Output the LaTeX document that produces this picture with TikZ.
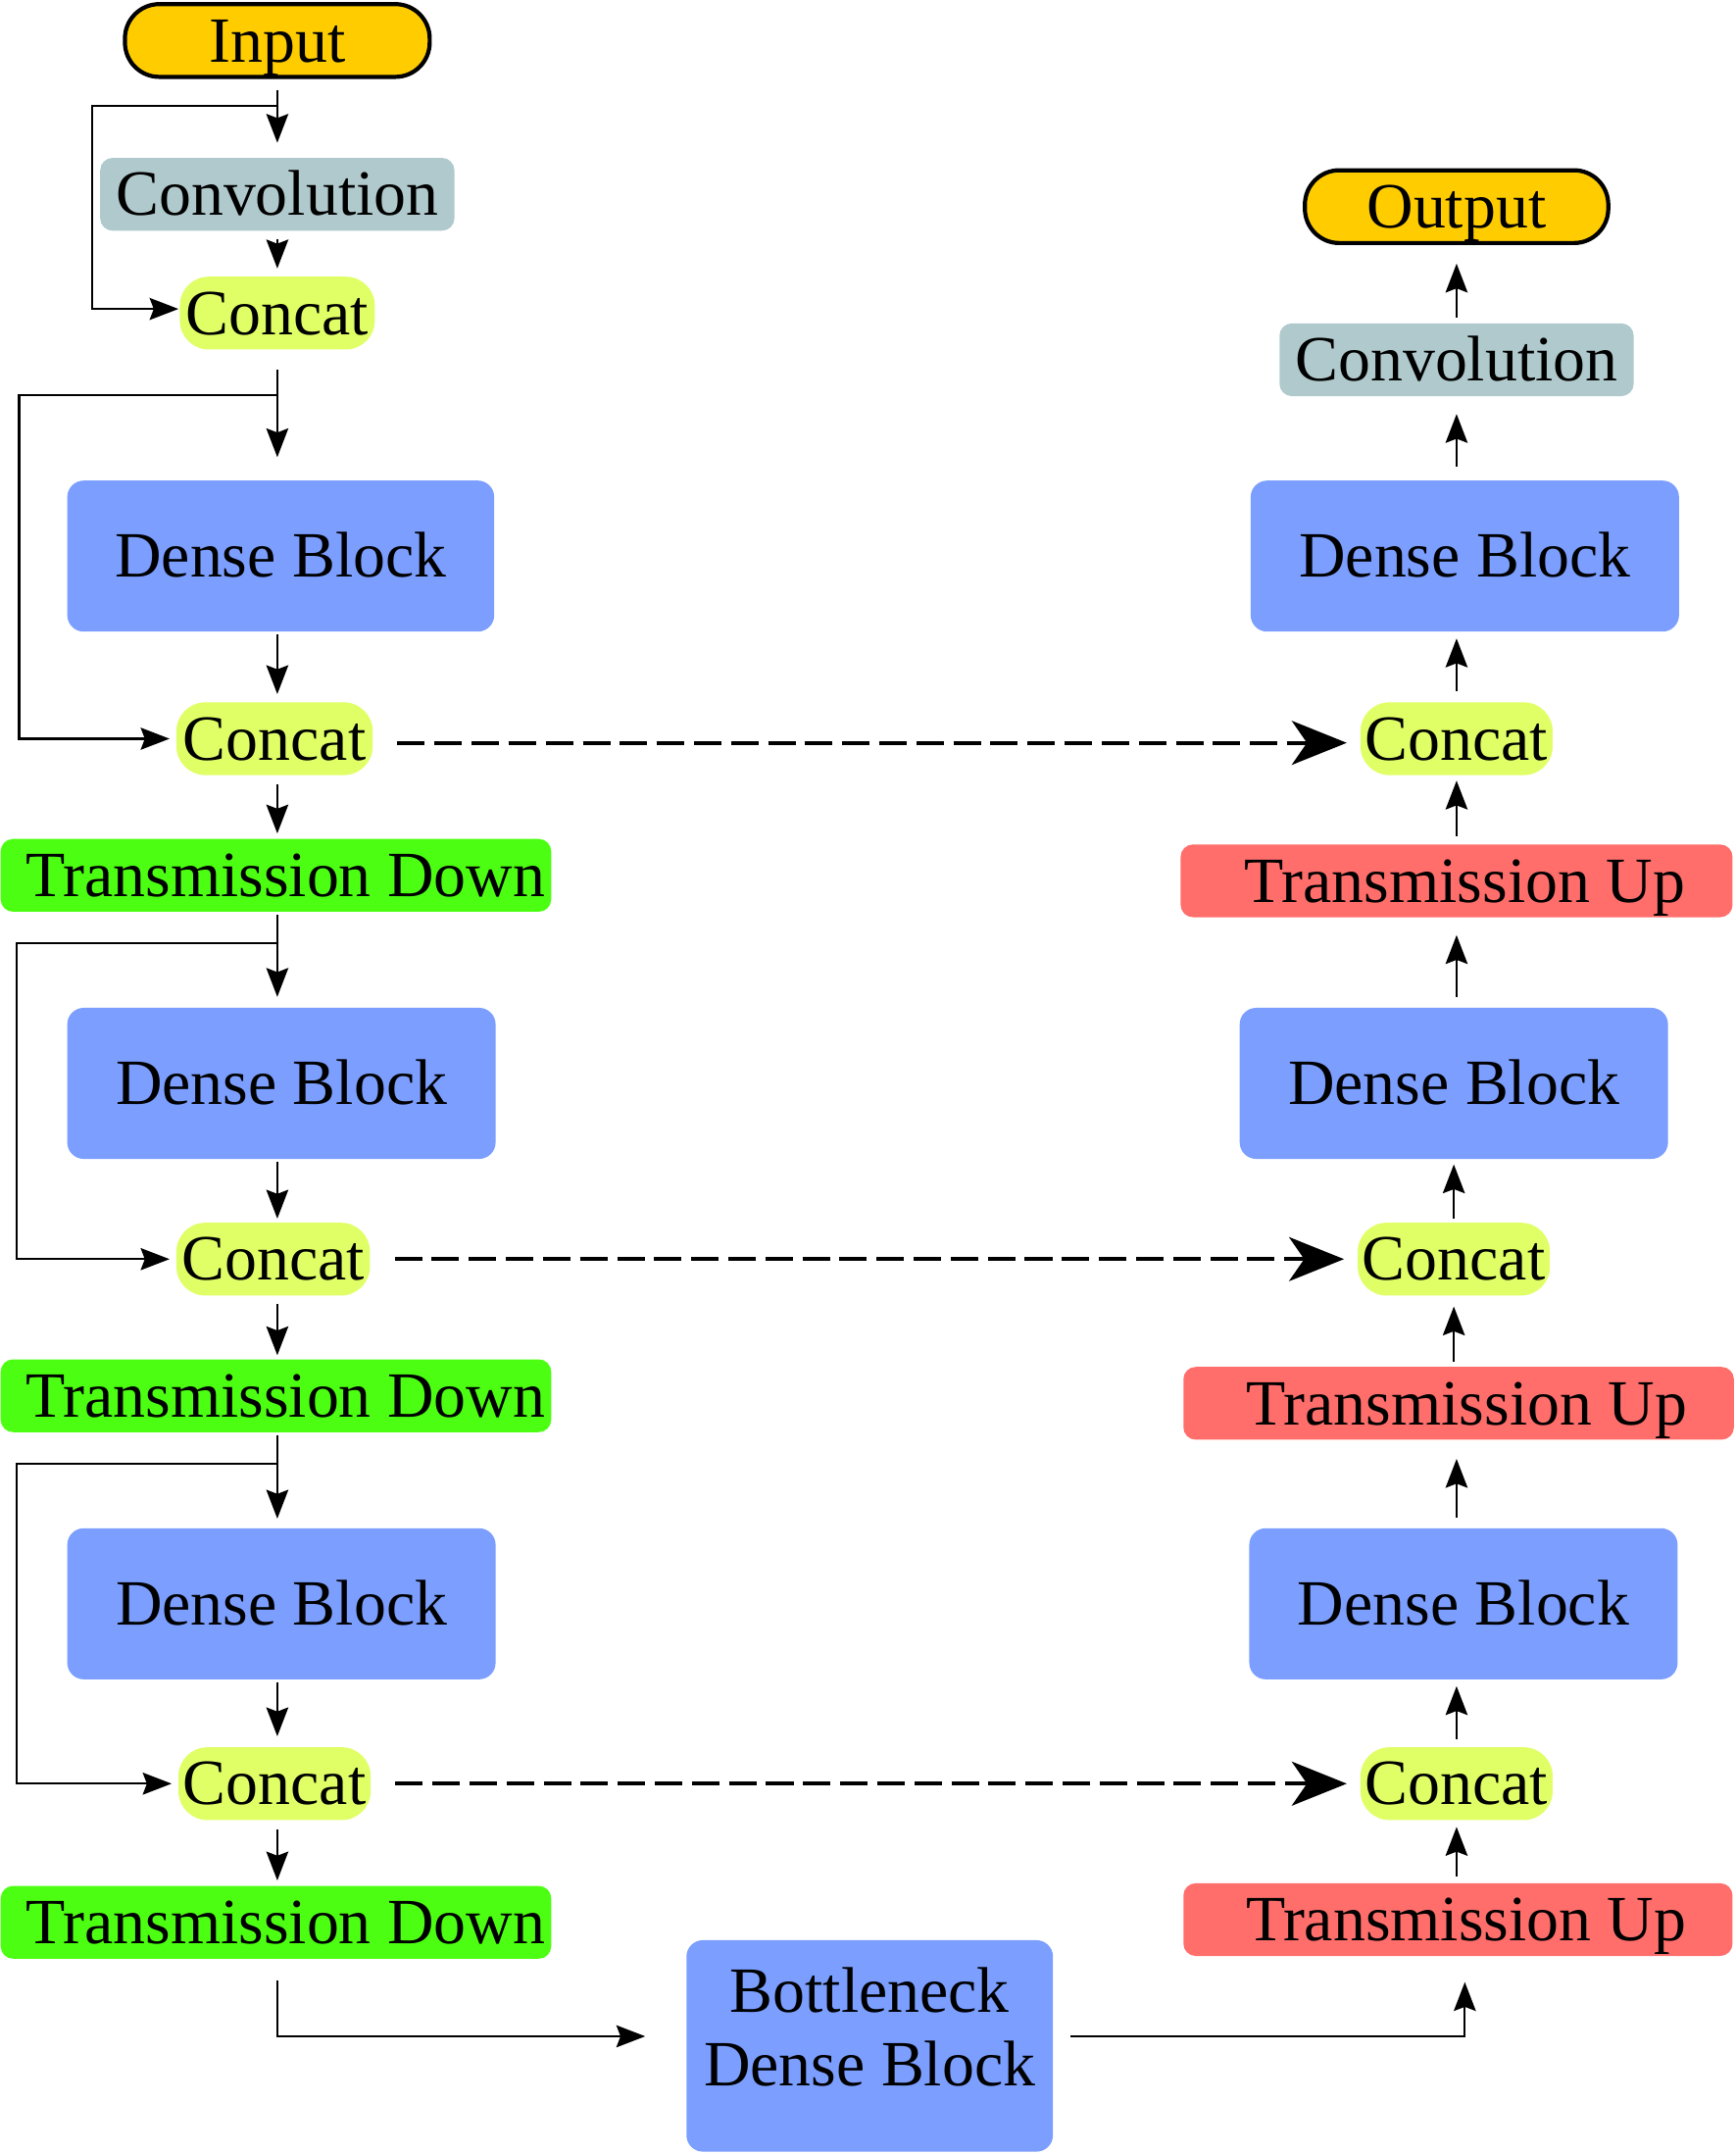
\documentclass[tikz,border=0pt]{standalone}
\usepackage{fontspec}
\setmainfont{Liberation Serif}
\usetikzlibrary{arrows.meta,calc}
\definecolor{cio}{HTML}{FFCC00}
\definecolor{cconv}{HTML}{B0C9CC}
\definecolor{ccat}{HTML}{E0FF66}
\definecolor{cdb}{HTML}{7B9EFF}
\definecolor{ctd}{HTML}{4CFF12}
\definecolor{ctu}{HTML}{FF6E6B}
\begin{document}
\begin{tikzpicture}[x=1pt,y=-1pt,
  box/.style={rectangle,inner sep=0pt,outer sep=0pt,font=\fontsize{47}{53}\selectfont,text height=42pt,text depth=11pt},
  io/.style={box,fill=cio,draw=black,line width=3pt,rounded corners=25pt},
  convbox/.style={box,fill=cconv,rounded corners=9pt},
  catbox/.style={box,fill=ccat,rounded corners=21pt},
  dbbox/.style={box,fill=cdb,rounded corners=12pt},
  tdbox/.style={box,fill=ctd,rounded corners=9pt},
  tubox/.style={box,fill=ctu,rounded corners=9pt},
  arr/.style={line width=1.6pt,-{Stealth[length=21pt,width=16pt,inset=3pt]}},
  darr/.style={line width=3pt,dash pattern=on 20pt off 7pt,-{Stealth[length=40pt,width=32pt,inset=11pt]}}
]
\useasboundingbox (0,0) rectangle (1264,1568);

% left column
\node[io,minimum width=222,minimum height=50] (in) at (202,29.5) {Input};
\node[convbox,minimum width=258,minimum height=41] (convL) at (202,141.5) {Convolution};
\node[catbox,minimum width=142,minimum height=44] (catL0) at (202,228) {Concat};
\node[dbbox,minimum width=311,minimum height=110] (dbL1) at (204.5,405) {Dense Block};
\node[catbox,minimum width=143,minimum height=44] (catL1) at (200,538) {Concat};
\node[tdbox,minimum width=401,minimum height=47] (tdL1) at (201,637.5) {\hspace{14pt}Transmission Down};
\node[dbbox,minimum width=312,minimum height=110] (dbL2) at (205,789) {Dense Block};
\node[catbox,minimum width=141,minimum height=44] (catL2) at (199,917) {Concat};
\node[tdbox,minimum width=401,minimum height=47] (tdL2) at (201,1016.5) {\hspace{14pt}Transmission Down};
\node[dbbox,minimum width=312,minimum height=110] (dbL3) at (205,1168) {Dense Block};
\node[catbox,minimum width=140,minimum height=42] (catL3) at (200,1299) {Concat};
\node[tdbox,minimum width=401,minimum height=48] (tdL3) at (201,1400) {\hspace{14pt}Transmission Down};

% bottleneck
\node[dbbox,minimum width=267,minimum height=154,align=center,text height=,text depth=28pt] (bott) at (633.5,1490) {Bottleneck\\Dense Block};

% right column
\node[tubox,minimum width=400,minimum height=42] (tuR3) at (1062,1398) {\hspace{12pt}Transmission Up};
\node[catbox,minimum width=140,minimum height=42] (catR3) at (1061,1299) {Concat};
\node[dbbox,minimum width=312,minimum height=110] (dbR3) at (1066,1168) {Dense Block};
\node[tubox,minimum width=401,minimum height=48] (tuR2) at (1062.5,1022) {\hspace{12pt}Transmission Up};
\node[catbox,minimum width=140,minimum height=44] (catR2) at (1059,917) {Concat};
\node[dbbox,minimum width=312,minimum height=110] (dbR2) at (1059,789) {Dense Block};
\node[tubox,minimum width=402,minimum height=47] (tuR1) at (1061,641.5) {\hspace{12pt}Transmission Up};
\node[catbox,minimum width=140,minimum height=44] (catR1) at (1061,538) {Concat};
\node[dbbox,minimum width=312,minimum height=110] (dbR1) at (1067,405) {Dense Block};
\node[convbox,minimum width=258,minimum height=40] (convR) at (1061,262) {Convolution};
\node[io,minimum width=221,minimum height=52] (out) at (1061,150.5) {Output};

% left connectors
\draw[arr] ($(in.south)+(0,10)$) -- ($(in.south |- convL.north)+(0,-11)$);
\draw[arr] ($(in.south)+(0,21)$) -- ++(-135,0) |- ($(catL0.west)+(-1,-3)$);
\draw[arr] ($(convL.south)+(0,6)$) -- ($(convL.south |- catL0.north)+(0,-6)$);
\draw[arr] ($(catL0.south)+(0,15)$) -- ($(catL0.south |- dbL1.north)+(0,-17)$);
\draw[arr] ($(catL0.south)+(0,33)$) -- ++(-188,0) |- ($(catL1.west)+(-5,0)$);
\draw[arr] ($(catL0 |- dbL1.south)+(0,2)$) -- ($(catL0 |- catL1.north)+(0,-6)$);
\draw[arr] ($(catL0 |- catL1.south)+(0,7)$) -- ($(catL0 |- tdL1.north)+(0,-4)$);
\draw[arr] ($(catL0 |- tdL1.south)+(0,2)$) -- ($(catL0 |- dbL2.north)+(0,-8)$);
\draw[arr] ($(catL0 |- tdL1.south)+(0,23)$) -- ++(-190,0) |- ($(catL2.west)+(-5,0)$);
\draw[arr] ($(catL0 |- dbL2.south)+(0,2)$) -- ($(catL0 |- catL2.north)+(0,-3)$);
\draw[arr] ($(catL0 |- catL2.south)+(0,6)$) -- ($(catL0 |- tdL2.north)+(0,-3)$);
\draw[arr] ($(catL0 |- tdL2.south)+(0,2)$) -- ($(catL0 |- dbL3.north)+(0,-7)$);
\draw[arr] ($(catL0 |- tdL2.south)+(0,23)$) -- ++(-190,0) |- ($(catL3.west)+(-5,0)$);
\draw[arr] ($(catL0 |- dbL3.south)+(0,2)$) -- ($(catL0 |- catL3.north)+(0,-8)$);
\draw[arr] ($(catL0 |- catL3.south)+(0,7)$) -- ($(catL0 |- tdL3.north)+(0,-4)$);
\draw[arr] ($(catL0 |- tdL3.south)+(0,16)$) |- ($(bott.west)+(-30,-7)$);

% skip (dashed) connectors
\draw[darr] ($(catL1.east)+(18,3)$) -- ($(catR1.west)+(-10,3)$);
\draw[darr] ($(catL2.east)+(18,0)$) -- ($(catR2.west)+(-10,0)$);
\draw[darr] ($(catL3.east)+(18,0)$) -- ($(catR3.west)+(-10,0)$);

% right connectors
\draw[arr] ($(bott.east)+(13,-7)$) -| ($(tuR3.south)+(5,19)$);
\draw[arr] ($(catR3 |- tuR3.north)+(0,-5)$) -- ($(catR3.south)+(0,5)$);
\draw[arr] ($(catR3.north)+(0,-6)$) -- ($(catR3 |- dbR3.south)+(0,5)$);
\draw[arr] ($(catR3 |- dbR3.north)+(0,-8)$) -- ($(catR3 |- tuR2.south)+(0,14)$);
\draw[arr] ($(catR2 |- tuR2.north)+(0,-4)$) -- ($(catR2.south)+(0,8)$);
\draw[arr] ($(catR2.north)+(0,-3)$) -- ($(catR2 |- dbR2.south)+(0,4)$);
\draw[arr] ($(tuR1 |- dbR2.north)+(0,-8)$) -- ($(tuR1.south)+(0,13)$);
\draw[arr] ($(tuR1.north)+(0,-6)$) -- ($(tuR1 |- catR1.south)+(0,4)$);
\draw[arr] ($(catR1.north)+(0,-8)$) -- ($(catR1 |- dbR1.south)+(0,5)$);
\draw[arr] ($(catR1 |- dbR1.north)+(0,-10)$) -- ($(catR1 |- convR.south)+(0,13)$);
\draw[arr] ($(convR.north)+(0,-4)$) -- ($(convR.north |- out.south)+(0,15)$);
\end{tikzpicture}
\end{document}
